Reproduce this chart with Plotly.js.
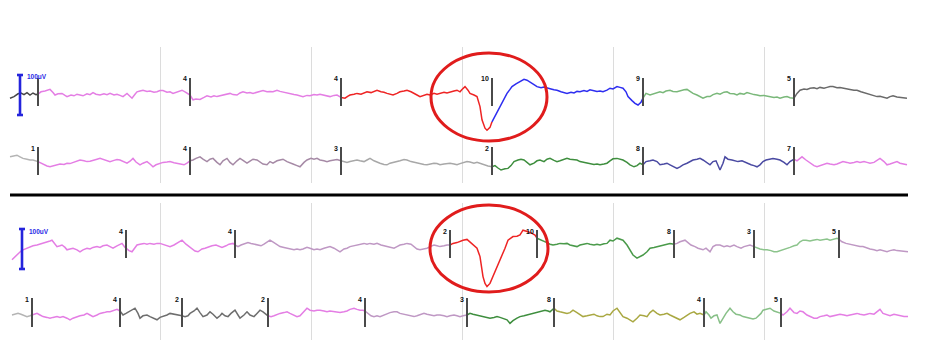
<!DOCTYPE html>
<html>
<head>
<meta charset="utf-8">
<script src="https://cdn.plot.ly/plotly-3.0.1.min.js"></script>
<style>html,body{margin:0;padding:0;background:#fff;}#chart{width:925px;height:340px;}</style>
</head>
<body>
<div id="chart"></div>
<script>
// ---------- DATA (sample index at 151 Hz, amplitude in µV relative to channel baseline) ----------
const FS = 151;      // samples per second
const T0 = 9;        // sample index of t = 0 s

// Top panel, channel 1
const top1_n = [10,14,18,21,24,27,30,33,36,38,
41,45,50,53,55,58,62,65,67,71,74,77,80,83,87,90,93,96,100,104,107,110,114,117,120,123,127,130,132,135,137,140,143,147,150,154,157,160,163,167,170,173,177,180,182,185,187,190,
193,196,200,204,207,211,214,217,221,225,230,233,237,240,243,247,250,253,257,260,263,267,270,273,277,280,283,287,290,294,297,300,303,307,310,314,317,320,324,327,330,334,337,341,
345,348,350,354,357,361,364,367,371,374,377,381,384,387,390,393,397,400,404,407,411,414,417,420,424,427,430,434,437,440,444,447,450,454,457,460,462,465,468,470,474,477,480,482,485,487,490,492,
496,500,504,507,510,512,516,520,524,527,530,534,537,541,544,547,551,554,557,561,564,567,571,574,577,580,584,587,590,593,597,600,603,607,610,613,617,620,623,626,628,632,635,638,641,643,
646,650,653,656,660,663,666,670,673,677,680,684,687,690,693,697,700,703,707,710,713,717,720,724,727,730,734,737,740,744,747,750,754,757,760,764,767,770,774,777,780,784,787,790,794,
797,800,804,807,810,814,817,820,824,827,830,833,837,840,843,847,850,854,857,861,864,867,871,874,877,880,884,887,890,893,897,900,904,907];
const top1_v = [-8,-4,3,5,1,6,0,5,1,2,
8,10,14,6,0,3,4,-1,-4,0,-2,2,-1,-2,3,1,6,2,0,3,1,4,0,2,-1,-4,4,-2,-8,2,8,10,12,9,10,7,8,11,11,7,8,4,8,10,12,8,4,0,
-12,-10,-11,-6,-2,-5,-2,-4,-1,2,4,1,0,5,8,5,6,4,7,9,11,8,9,8,12,9,7,4,3,1,0,-3,-4,-1,-2,1,0,2,-1,-2,-4,-1,0,-6,
-8,-3,0,2,4,2,6,8,6,10,12,8,7,4,2,0,4,8,10,12,8,3,0,-4,-1,2,0,4,2,4,7,5,8,10,12,8,14,21,12,4,0,-4,-29,-62,-83,-88,-81,-67,
-48,-29,-10,4,14,21,28,33,39,37,33,26,21,18,20,17,15,13,12,8,6,4,7,5,9,8,11,9,13,12,9,10,8,12,17,15,21,19,17,8,-4,-14,-21,-25,-18,-8,
4,0,2,5,8,6,10,12,9,8,11,13,14,9,4,0,-5,-8,-4,-4,1,4,2,7,8,4,3,0,4,2,6,3,1,0,-2,-1,-3,-4,-6,-5,-8,-5,-4,-7,-8,
4,12,15,14,17,18,16,19,17,19,21,21,18,19,17,15,14,12,12,8,6,4,1,-1,-4,-3,-6,-8,-4,-2,-5,-6,-6,-8];
const top1_events = [38,190,341,492,643,794];
const top1_labels = ['','4','4','10','9','5'];

// Top panel, channel 2
const top2_n = [10,14,17,20,23,27,30,33,36,38,
41,44,47,50,54,57,60,64,67,70,74,77,80,84,87,90,94,97,100,104,107,110,114,117,120,124,127,130,133,136,140,143,147,150,153,156,160,163,167,170,174,177,180,184,187,190,
193,196,200,203,207,210,213,217,220,223,227,230,233,237,240,243,247,250,253,257,260,263,267,270,273,277,280,283,287,290,293,297,300,304,307,311,314,317,320,324,327,330,334,337,341,
344,347,350,354,357,360,364,367,370,374,377,380,384,387,390,394,397,400,404,407,411,414,417,420,424,427,430,434,437,440,444,447,450,454,457,460,464,467,470,474,477,480,484,488,492,
495,498,501,505,508,511,514,518,521,524,527,530,534,537,540,544,547,550,554,557,560,564,567,570,574,577,580,584,587,590,594,597,600,604,607,610,613,617,620,623,627,630,634,637,640,643,
646,650,653,657,660,664,667,670,674,677,680,683,687,690,693,697,700,703,707,710,713,716,720,723,725,728,732,735,738,742,745,748,751,754,757,760,763,766,770,773,777,780,784,787,790,794,
797,800,802,806,810,814,817,820,824,827,830,834,837,840,843,847,850,854,857,860,864,867,870,874,877,880,884,887,890,894,897,900,904,907];
const top2_v = [8,11,12,8,4,2,0,0,-2,-4,
-8,-12,-15,-17,-14,-12,-10,-11,-8,-9,-5,-3,0,-2,-4,-3,1,2,4,0,-2,-4,-1,1,0,-4,-8,-3,4,-5,-12,-8,-4,-10,-17,-12,-8,-6,-5,-4,-7,-8,-10,-12,-8,-2,
0,4,8,2,-4,2,4,-6,-12,-2,4,-6,-12,-2,4,-1,-8,-3,2,0,-4,-10,-12,-4,-8,-2,0,2,-4,-8,-10,-14,-17,-6,0,4,2,4,0,-2,-4,-2,0,1,-2,
-4,-6,-4,-2,0,-2,-4,0,4,-2,-6,-8,-11,-12,-8,-6,-4,-2,1,0,-4,-6,-8,-10,-11,-12,-10,-8,-9,-12,-10,-9,-8,-10,-12,-9,-6,-4,-5,-8,-6,-9,-12,-15,-17,
-14,-20,-25,-22,-21,-14,-4,0,2,0,-6,-12,-8,-2,0,-4,2,4,-1,-4,-2,1,4,2,0,0,-4,-6,-8,-10,-11,-10,-12,-10,-8,-2,3,4,2,0,-6,-12,-17,-14,-8,-12,
-4,-2,0,-4,-12,-10,-8,-12,-17,-21,-17,-12,-8,-4,0,2,4,0,-6,-12,-4,-2,-25,-8,8,2,0,-2,-4,-2,-6,-10,-12,-14,-17,-12,-4,0,2,4,2,0,-6,-12,-4,2,
-2,4,8,0,-8,-14,-17,-14,-10,-8,-10,-12,-10,-6,-4,-6,-8,-6,-4,-6,-4,-6,-8,-6,-2,4,-4,-12,-10,-6,-4,-8,-10,-12];
const top2_events = [38,190,341,492,643,794];
const top2_labels = ['1','4','3','2','8','7'];

// Bottom panel, channel 1
const bot1_n = [12,15,18,21,23,27,30,33,37,40,43,47,50,52,55,57,60,62,65,67,70,73,77,80,83,87,90,93,97,100,103,107,110,113,117,120,122,125,126,
129,132,135,137,140,144,147,150,154,157,160,164,167,170,174,177,180,182,186,189,192,195,198,202,205,209,212,216,219,222,226,229,233,235,
238,241,245,248,251,255,258,261,264,267,270,274,277,280,284,287,290,294,297,300,303,307,310,314,317,320,324,327,330,334,337,340,344,347,350,354,357,360,364,367,370,374,377,381,384,387,390,394,397,400,404,407,411,414,417,420,424,427,430,434,437,440,444,447,450,
453,457,460,463,467,470,473,477,480,483,485,487,490,493,496,499,502,505,508,511,513,517,520,523,526,528,532,535,537,
540,543,547,550,553,557,560,564,567,570,574,577,580,584,587,590,594,597,600,604,607,610,613,617,620,623,627,630,633,637,640,643,647,650,654,657,660,664,667,670,674,
677,680,685,688,691,695,698,703,706,710,713,716,720,724,727,730,734,737,741,744,747,750,754,
757,760,764,767,771,774,777,781,784,787,790,794,797,800,803,806,810,813,817,820,823,827,830,834,837,839,
842,846,849,853,857,860,863,867,870,874,877,880,884,887,890,894,897,901,904,908];
const bot1_v = [-37,-29,-21,-15,-12,-8,-4,-2,0,2,4,8,10,12,2,-4,-2,0,-6,-12,-10,-8,-12,-17,-12,-8,-10,-6,-4,-6,-2,0,-4,-8,-2,2,4,-6,-8,
-14,-17,-6,0,2,4,2,4,2,4,4,0,-2,-4,0,4,8,12,2,-4,-10,-15,-17,-10,-8,-4,-2,0,-4,-6,-2,2,4,0,
-4,0,4,6,4,2,0,-2,2,6,12,6,0,-4,-6,-8,-10,-12,-10,-12,-10,-6,-8,-12,-10,-12,-8,-6,-4,-8,-12,-17,-10,-8,-4,-2,0,2,4,2,4,2,4,0,-2,-4,-6,-8,-4,0,2,4,2,-4,-10,-12,-10,-8,-4,0,-2,-4,-2,0,0,
4,6,10,12,14,8,0,-8,-29,-79,-96,-104,-96,-79,-62,-45,-29,-8,12,18,21,22,25,37,35,33,29,25,17,
14,12,6,2,0,2,4,3,4,0,-2,-4,0,2,4,2,0,2,0,3,4,12,10,17,14,12,0,-12,-25,-33,-29,-25,-17,-8,-6,-4,-2,0,2,4,2,
4,8,12,6,0,-4,-8,-12,-8,-17,-4,0,0,-4,-2,-4,0,-4,-8,-4,-2,0,-4,
-8,-10,-12,-12,-14,-17,-17,-14,-12,-10,-6,-2,0,8,12,12,10,12,14,12,13,15,12,14,17,14,
8,4,2,0,-2,-4,-4,-8,-10,-12,-14,-12,-15,-17,-14,-12,-14,-15,-16,-17];
const bot1_events = [126,235,450,537,674,754,839];
const bot1_labels = ['4','4','2','10','8','3','5'];

// Bottom panel, channel 2
const bot2_n = [12,15,18,21,24,27,30,32,
35,37,40,43,47,50,53,57,60,63,67,70,73,77,80,84,87,90,93,97,100,104,107,110,113,117,120,
123,126,129,132,135,138,140,143,147,150,154,157,160,163,167,170,174,177,180,182,
185,188,190,194,197,200,203,207,210,213,217,220,222,225,228,231,235,238,240,244,247,250,254,257,260,263,265,268,
271,274,277,280,284,287,290,294,297,300,304,307,310,314,317,320,324,327,330,334,337,340,344,347,350,354,357,360,363,365,
368,371,374,377,380,384,387,390,394,397,400,404,407,410,414,417,420,424,427,430,434,437,440,444,447,450,454,457,460,463,467,
470,473,477,480,484,487,490,494,497,500,503,507,510,513,517,520,524,527,530,534,537,540,543,545,548,550,554,
557,560,563,567,570,573,577,580,583,587,590,594,597,600,603,607,610,613,617,620,623,627,630,633,637,640,644,647,650,653,657,660,664,667,670,674,677,680,684,687,690,694,697,700,704,
706,709,711,714,717,720,723,726,730,733,736,740,743,747,750,753,756,758,761,763,767,770,774,777,781,
783,787,790,794,797,800,803,807,810,814,817,820,824,827,830,834,837,840,844,847,850,854,857,860,864,867,870,874,877,880,883,887,890,894,897,900,904,908];
const bot2_v = [0,2,4,2,-2,-4,-2,0,
2,4,0,-4,-6,-8,-6,-4,-6,-4,-8,-12,-8,-4,-2,0,4,0,-4,0,4,6,8,8,10,14,10,
0,4,8,12,17,4,-8,-2,0,-4,-8,-12,-6,-4,0,4,2,0,0,-2,
-4,-2,4,10,17,6,-4,0,8,2,-8,-2,4,-2,-4,4,12,0,-8,0,8,0,-4,4,12,8,4,-2,
-4,-2,2,4,6,8,4,0,-4,-2,8,17,12,10,12,12,10,8,10,8,8,6,8,10,14,17,14,12,12,10,
4,-2,-4,-2,-4,0,4,6,8,8,4,2,0,-2,-4,-2,0,4,2,0,-2,0,0,-2,-4,-2,0,-2,-4,-2,0,
4,2,0,-2,-4,-6,-8,-6,-4,-6,-8,-12,-21,-14,-8,-4,-2,0,2,6,8,10,12,12,10,8,17,
10,8,6,4,6,12,6,0,-4,-2,0,2,-2,-4,-4,2,0,10,17,6,-4,-8,-12,-17,-8,0,-2,-4,6,12,4,0,2,4,0,-4,-8,-12,-6,0,4,8,2,4,0,
8,0,-8,-2,0,-21,-8,4,17,8,2,0,-4,-6,-8,-10,-8,-4,4,12,14,17,10,8,4,
0,8,17,6,4,10,8,0,-4,-8,-8,-4,-2,0,-4,-2,0,2,0,-2,0,2,4,2,0,2,4,2,8,14,4,0,-2,2,0,-2,-4,-4];
const bot2_events = [32,120,182,268,365,467,554,704,781];
const bot2_labels = ['1','4','2','2','4','3','8','4','5'];

// ---------- STYLE / LAYOUT CONFIG ----------
const C = {
  pink:'#e47ee4', mauve:'#a68aa6', mauveL:'#bf98c4', gray:'#a8a8a8', lgray:'#b4b4b4', dgray:'#6e6e6e',
  black:'#474747', red:'#ee2424', blue:'#2e2ef0', lgreen:'#7ab87a', green:'#3e8e3e', navy:'#4a4aa2', olive:'#a9a842'
};
const rows = [
  {n:top1_n, v:top1_v, ev:top1_events, lab:top1_labels, ax:'', off:-120, mTop:42.5, mBot:-27.5,
   col:[C.black,C.pink,C.pink,C.red,C.blue,C.lgreen,'#6a6a6a']},
  {n:top2_n, v:top2_v, ev:top2_events, lab:top2_labels, ax:'', off:-282.5, mTop:32.5, mBot:-37.5,
   col:[C.lgray,C.pink,C.mauve,C.gray,C.green,C.navy,C.pink]},
  {n:bot1_n, v:bot1_v, ev:bot1_events, lab:bot1_labels, ax:'2', off:-105, mTop:37.5, mBot:-32.5,
   col:[C.pink,C.pink,C.mauveL,C.red,'#4a9a4a',C.mauveL,'#8cc48c',C.mauveL]},
  {n:bot2_n, v:bot2_v, ev:bot2_events, lab:bot2_labels, ax:'2', off:-280, mTop:42.5, mBot:-30,
   col:[C.lgray,C.pink,C.dgray,C.dgray,C.pink,C.mauveL,C.green,C.olive,'#88c088',C.pink]}
];
const toT = s => (s - T0) / FS;

const traces = [];
const annotations = [];
rows.forEach(r => {
  const bounds = [r.n[0], ...r.ev, r.n[r.n.length-1]];
  for (let k = 0; k < bounds.length - 1; k++) {
    const xs = [], ys = [];
    r.n.forEach((s, i) => {
      if (s >= bounds[k] && s <= bounds[k+1]) { xs.push(toT(s)); ys.push(r.off + r.v[i]); }
    });
    traces.push({type:'scatter', mode:'lines', x:xs, y:ys, xaxis:'x'+r.ax, yaxis:'y'+r.ax,
      line:{color:r.col[k], width:1.5}, hoverinfo:'skip', showlegend:false});
  }
  const mx = [], my = [];
  r.ev.forEach((s, i) => {
    mx.push(toT(s), toT(s), null);
    my.push(r.off + r.mTop, r.off + r.mBot, null);
    if (r.lab[i]) annotations.push({xref:'x'+r.ax, yref:'y'+r.ax, x:toT(s), y:r.off + r.mTop,
      text:'<b>'+r.lab[i]+'</b>', showarrow:false, xanchor:'right', yanchor:'middle', xshift:-1, yshift:-1,
      font:{family:'Liberation Sans, Arial, sans-serif', size:7, color:'#111'}});
  });
  traces.push({type:'scatter', mode:'lines', x:mx, y:my, xaxis:'x'+r.ax, yaxis:'y'+r.ax,
    line:{color:'#4a4a4a', width:2}, hoverinfo:'skip', showlegend:false});
});

// 100 µV calibration bars
const calib = [
  {ax:'', s:20, top:-70},
  {ax:'2', s:22, top:-65}
];
const CAL = 100, CAP = 0.02;
calib.forEach(c => {
  const t = toT(c.s);
  traces.push({type:'scatter', mode:'lines', xaxis:'x'+c.ax, yaxis:'y'+c.ax, hoverinfo:'skip', showlegend:false,
    x:[t, t, null, t-CAP, t+CAP, null, t-CAP, t+CAP],
    y:[c.top, c.top-CAL, null, c.top, c.top, null, c.top-CAL, c.top-CAL],
    line:{color:'#2424dc', width:2.6}});
  annotations.push({xref:'x'+c.ax, yref:'y'+c.ax, x:t, y:c.top, xshift:5, yshift:-2, xanchor:'left', yanchor:'middle',
    text:'<b>100uV</b>', showarrow:false, font:{family:'Liberation Sans, Arial, sans-serif', size:6.5, color:'#2a2ae6'}});
});

const xax = {range:[toT(0), toT(925)], tickvals:[1,2,3,4,5], showgrid:true, gridcolor:'#dcdcdc', gridwidth:1,
  showticklabels:false, ticks:'', zeroline:false, showline:false, fixedrange:true};
const layout = {
  width:925, height:340, margin:{l:0, r:0, t:0, b:0},
  paper_bgcolor:'#ffffff', plot_bgcolor:'#ffffff', showlegend:false,
  xaxis:Object.assign({anchor:'y'}, xax),
  xaxis2:Object.assign({anchor:'y2'}, xax),
  yaxis:{domain:[1-183/340, 1-47/340], range:[-340, 0], showgrid:false, zeroline:false, showticklabels:false, ticks:'', fixedrange:true},
  yaxis2:{domain:[0, 1-203/340], range:[-342.5, 0], showgrid:false, zeroline:false, showticklabels:false, ticks:'', fixedrange:true},
  annotations: annotations,
  shapes:[
    {type:'line', xref:'paper', yref:'paper', x0:10/925, x1:908/925, y0:1-195/340, y1:1-195/340, line:{color:'#000', width:3}},
    {type:'circle', xref:'x', yref:'y', x0:toT(431), x1:toT(547), y0:-15, y1:-235, line:{color:'#e01c1c', width:3}},
    {type:'circle', xref:'x2', yref:'y2', x0:toT(430), x1:toT(548), y0:-5, y1:-222.5, line:{color:'#e01c1c', width:3}}
  ]
};
Plotly.newPlot('chart', traces, layout, {staticPlot:true, displayModeBar:false});
</script>
</body>
</html>
